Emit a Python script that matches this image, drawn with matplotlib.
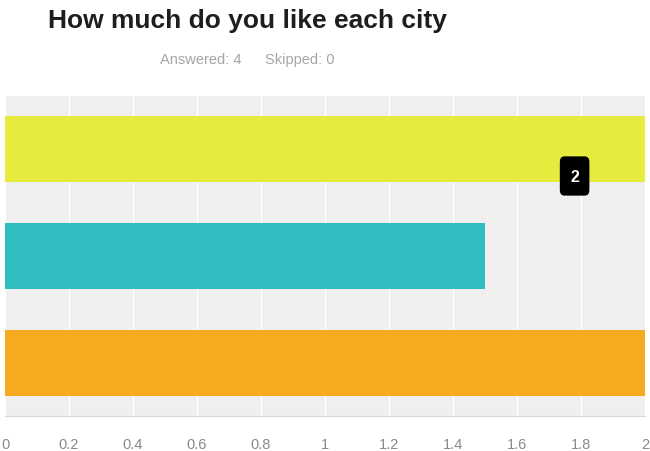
import matplotlib
matplotlib.use("Agg")
import matplotlib.pyplot as plt
from matplotlib.patches import FancyBboxPatch

categories = ["City A", "City B", "City C"]
values = [2, 1.5, 2]
colors = ["#e6ec3e", "#30bdbf", "#f5aa1f"]
xticks = [0, 0.2, 0.4, 0.6, 0.8, 1, 1.2, 1.4, 1.6, 1.8, 2]
xtick_labels = ["0", "0.2", "0.4", "0.6", "0.8", "1", "1.2", "1.4", "1.6", "1.8", "2"]
tooltip_value = 2
tooltip_pos = (1.78, 0.25)

plt.rcParams["font.family"] = ["Liberation Sans", "DejaVu Sans"]

fig = plt.figure(figsize=(6.5, 4.52), dpi=100)
ax = fig.add_axes([5/650, 1-417/452, 640/650, 320/452])
ax.set_facecolor("#efefef")
ypos = list(range(len(categories)))
ax.barh(ypos, values, height=0.62, color=colors, zorder=2)
ax.set_xlim(0, 2)
ax.set_ylim(2.5, -0.5)
ax.set_xticks(xticks)
ax.set_xticklabels(xtick_labels)
ax.set_yticks([])
ax.grid(axis="x", color="white", linewidth=0.9, zorder=1)
ax.tick_params(axis="x", length=0, pad=15, labelsize=10.5, labelcolor="#8a8a8a")
for s in ax.spines.values():
    s.set_visible(False)
ax.spines["bottom"].set_visible(True)
ax.spines["bottom"].set_color("#d8d8d8")

# tooltip
bw, bh = 0.088, 0.355
box = FancyBboxPatch((tooltip_pos[0] - bw/2, tooltip_pos[1] - bh/2), bw, bh,
                     boxstyle="round,pad=0,rounding_size=0.012",
                     mutation_aspect=4, fc="black", ec="black", zorder=5)
ax.add_patch(box)
ax.text(tooltip_pos[0], tooltip_pos[1], str(tooltip_value), ha="center", va="center",
        color="white", fontsize=11.5, fontweight="bold", zorder=6)

fig.text(48/650, 1-21/452, "How much do you like each city", fontsize=19,
         fontweight="bold", color="#1e1e1e", ha="left", va="center")
fig.text(160/650, 1-60/452, "Answered: 4", fontsize=10.5,
         color="#a5a5a5", ha="left", va="center")
fig.text(265/650, 1-60/452, "Skipped: 0", fontsize=10.5,
         color="#a5a5a5", ha="left", va="center")

fig.savefig("out.png", dpi=100, facecolor="white")
